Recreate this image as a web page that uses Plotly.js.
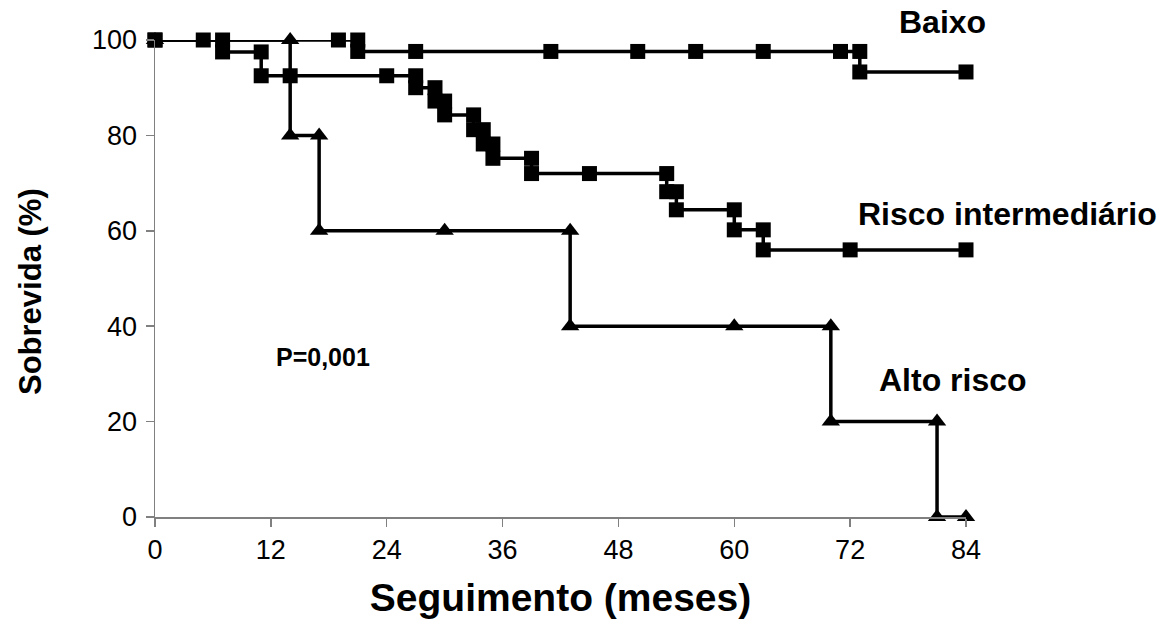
<!DOCTYPE html>
<html><head><meta charset="utf-8">
<script src="https://cdn.plot.ly/plotly-3.0.1.min.js"></script>
<style>html,body{margin:0;padding:0;background:#fff}</style>
</head><body><div id="chart" style="width:1166px;height:624px"></div>
<script>
// Baixo risco (squares)
const baixoMonths = [0, 5, 19, 21, 21, 27, 41, 50, 56, 63, 71, 73, 73, 84];
const baixoSurv   = [100, 100, 100, 100, 97.6, 97.6, 97.6, 97.6, 97.6, 97.6, 97.6, 97.6, 93.3, 93.3];

// Risco intermediário (squares)
const interMonths = [0, 7, 7, 11, 11, 14, 24, 27, 27, 29, 29, 30, 30, 33, 33, 34, 34, 35, 35, 39, 39, 45, 53, 53, 54, 54, 60, 60, 63, 63, 72, 84];
const interSurv   = [100, 100, 97.5, 97.5, 92.5, 92.5, 92.5, 92.5, 90, 90, 87.2, 87.2, 84.3, 84.3, 81.2, 81.2, 78.2, 78.2, 75.2, 75.2, 72, 72, 72, 68.2, 68.2, 64.4, 64.4, 60.2, 60.2, 56, 56, 56];

// Alto risco (triangles)
const altoMonths = [0, 14, 14, 17, 17, 30, 43, 43, 60, 70, 70, 81, 81, 84];
const altoSurv   = [100, 100, 80, 80, 60, 60, 60, 40, 40, 40, 20, 20, 0, 0];

const xTicks = [0, 12, 24, 36, 48, 60, 72, 84];
const yTicks = [0, 20, 40, 60, 80, 100];

const labels = ['Baixo', 'Risco intermediário', 'Alto risco', 'P=0,001'];
const yTitle = 'Sobrevida (%)';
const xTitle = 'Seguimento (meses)';

const FONT = 'Liberation Sans, Arial, sans-serif';
const common = {mode: 'lines+markers', cliponaxis: false, line: {color: '#000', width: 3.5}, showlegend: false};

const traces = [
  Object.assign({}, common, {x: altoMonths, y: altoSurv, marker: {symbol: 'triangle-up', size: 16, color: '#000'}}),
  Object.assign({}, common, {x: interMonths, y: interSurv, marker: {symbol: 'square', size: 15, color: '#000'}}),
  Object.assign({}, common, {x: baixoMonths, y: baixoSurv, marker: {symbol: 'square', size: 15, color: '#000'}})
];

const px2x = p => (p - 155) / (966 - 155);
const px2y = p => (517 - p) / (517 - 40);

const annPos = [
  {px: 942, py: 22, size: 32},
  {px: 1007, py: 214, size: 32},
  {px: 953, py: 380, size: 32},
  {px: 323, py: 357, size: 25}
];
const annotations = labels.map((t, i) => ({
  text: '<b>' + t + '</b>',
  xref: 'paper', yref: 'paper',
  x: px2x(annPos[i].px), y: px2y(annPos[i].py),
  xanchor: 'center', yanchor: 'middle',
  showarrow: false,
  font: {family: FONT, size: annPos[i].size, color: '#000'}
}));
annotations.push({
  text: '<b>' + yTitle + '</b>',
  xref: 'paper', yref: 'paper',
  x: px2x(30), y: px2y(292),
  xanchor: 'center', yanchor: 'middle', textangle: -90,
  showarrow: false,
  font: {family: FONT, size: 31, color: '#000'}
});

const layout = {
  width: 1166, height: 624,
  margin: {l: 155, r: 200, t: 40, b: 107},
  paper_bgcolor: '#fff', plot_bgcolor: '#fff',
  font: {family: FONT, color: '#000'},
  xaxis: {
    range: [0, 84], tickvals: xTicks, ticktext: xTicks.map(String),
    showgrid: false, zeroline: false, showline: true, linecolor: '#808080', linewidth: 1.5,
    ticks: 'outside', ticklen: 8, tickcolor: '#808080', tickwidth: 1.5,
    tickfont: {family: FONT, size: 27, color: '#000'},
    title: {text: '<b>' + xTitle + '</b>', font: {family: FONT, size: 39, color: '#000'}, standoff: 20},
    fixedrange: true
  },
  yaxis: {
    range: [0, 100], tickvals: yTicks, ticktext: yTicks.map(String),
    showgrid: false, zeroline: false, showline: true, linecolor: '#808080', linewidth: 1.5,
    ticks: 'outside', ticklen: 8, tickcolor: '#808080', tickwidth: 1.5,
    tickfont: {family: FONT, size: 27, color: '#000'},
    ticklabelstandoff: 3,
    fixedrange: true
  },
  annotations: annotations
};

Plotly.newPlot('chart', traces, layout, {displayModeBar: false, staticPlot: true});
</script></body></html>
